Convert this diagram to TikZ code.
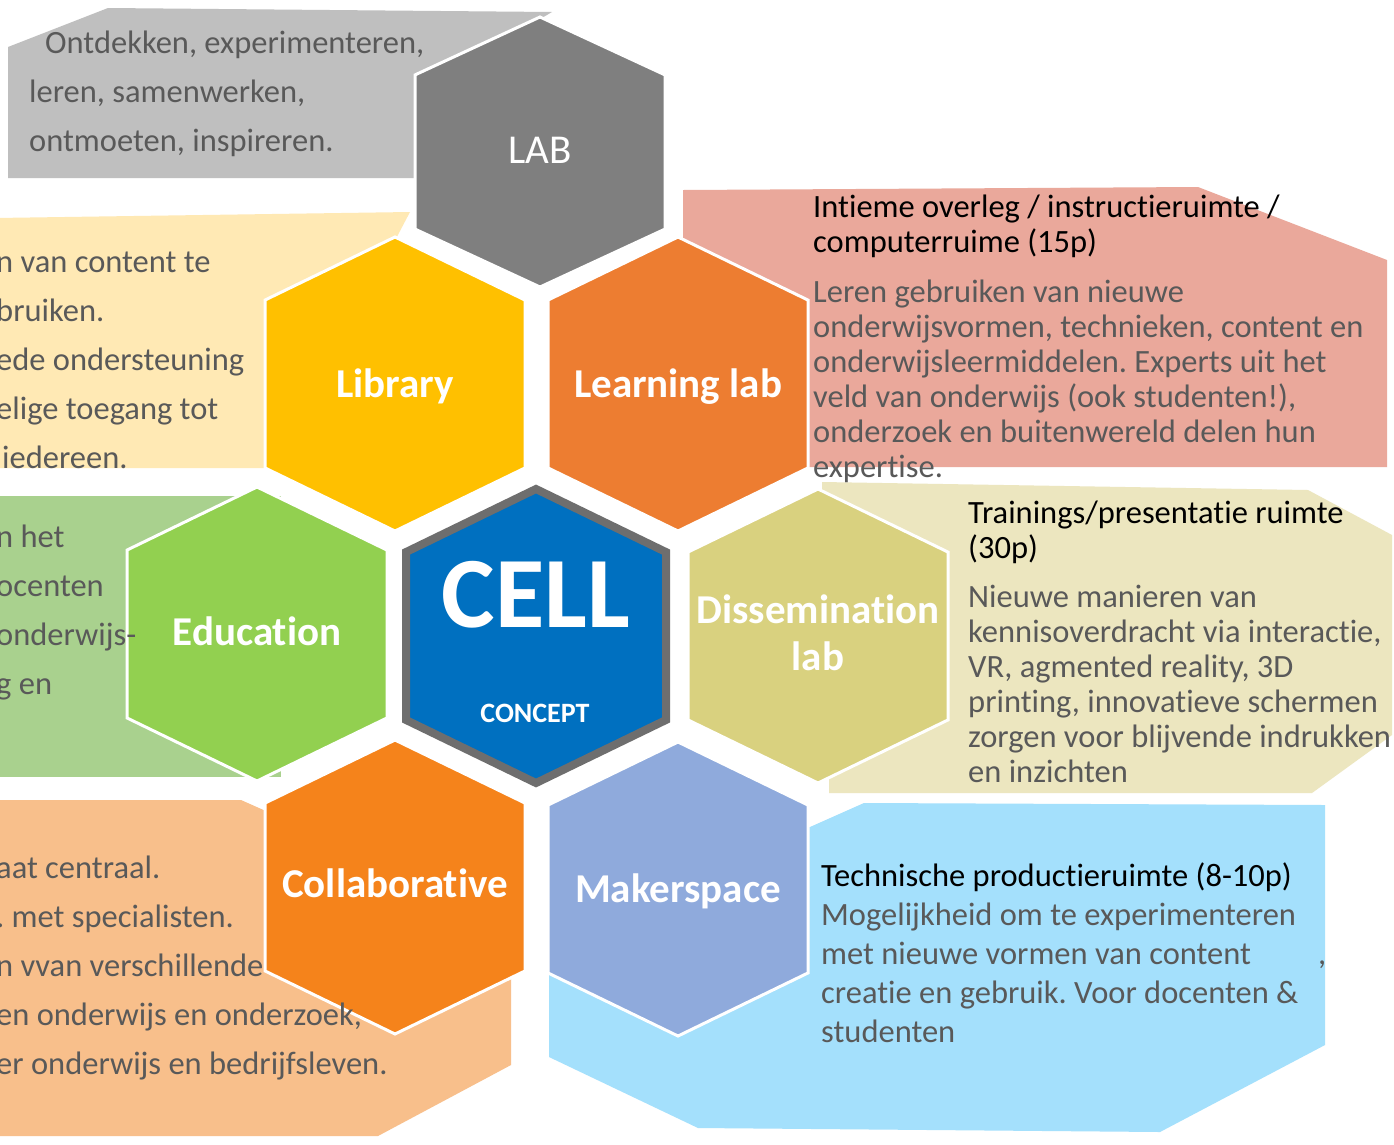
\documentclass[tikz,border=0pt]{standalone}
\usepackage{fontspec}
\setmainfont{Carlito}[Ligatures={NoCommon}]
\frenchspacing

\definecolor{labgray}{HTML}{7F7F7F}
\definecolor{libyellow}{HTML}{FFC000}
\definecolor{learnorange}{HTML}{ED7D31}
\definecolor{edugreen}{HTML}{92D050}
\definecolor{cellblue}{HTML}{0070C0}
\definecolor{cellrim}{HTML}{6E6E6E}
\definecolor{dissolive}{HTML}{D9D17F}
\definecolor{collorange}{HTML}{F5831B}
\definecolor{makerblue}{HTML}{8FAADC}
\definecolor{boxgray}{HTML}{BFBFBF}
\definecolor{boxyellow}{HTML}{FFE9B4}
\definecolor{boxgreen}{HTML}{A9D18E}
\definecolor{boxorange}{HTML}{F8BF8B}
\definecolor{boxpink}{HTML}{EAA89B}
\definecolor{boxbeige}{HTML}{ECE6BF}
\definecolor{boxblue}{HTML}{A4E0FC}
\definecolor{notegray}{HTML}{595959}

% hexagon: options, centre x, centre y, half width, half height
\newcommand{\hexcell}[5]{%
  \path[#1] ({#2},{#3-#5}) -- ({#2+#4},{#3-0.571*#5}) -- ({#2+#4},{#3+0.571*#5})
    -- ({#2},{#3+#5}) -- ({#2-#4},{#3+0.571*#5}) -- ({#2-#4},{#3-0.571*#5}) -- cycle;}

\begin{document}
\begin{tikzpicture}[x=1pt, y=-1pt,
  hex/.style={draw=white, line width=3pt},
  hexlabel/.style={text=white, font=\bfseries\fontsize{41}{47}\selectfont, align=center, anchor=base, inner sep=0pt},
  sidenote/.style={text=notegray, font=\fontsize{32.5}{49}\selectfont, align=left, anchor=north west, inner sep=0pt},
  roomhead/.style={text=black, font=\fontsize{32.5}{35}\selectfont, align=left, anchor=north west, inner sep=0pt},
  roomnote/.style={roomhead, text=notegray}]
\useasboundingbox (0,0) rectangle (1394,1144);
\fill[white] (0,0) rectangle (1394,1144);
\clip (0,0) rectangle (1394,1144);

% boxes behind the hexagons
\fill[boxgray] (108,8) -- (552,12) -- (420,90) -- (420,178) -- (8,178) -- (8,47) -- cycle;
\fill[boxyellow] (-5,218) -- (410,212) -- (390,250) -- (300,300) -- (300,468) -- (-5,468) -- cycle;
\fill[boxgreen] (-5,496) rectangle (281,777);
\fill[boxorange] (-5,800) -- (241,800) -- (268,812) -- (300,900) -- (511,978) -- (511,1065) -- (378,1136) -- (-5,1136) -- cycle;
\fill[boxpink] (683,190) -- (1198,187) -- (1387,260) -- (1387,467) -- (700,467) -- (683,300) -- cycle;
\fill[boxbeige] (822,482) -- (1308,490) -- (1392,535) -- (1392,735) -- (1312,793) -- (829,793) -- (829,760) -- (822,600) -- cycle;
\fill[boxblue] (810,827) -- (864,803) -- (1325,805) -- (1325,1045) -- (1160,1132) -- (698,1128) -- (549,1057) -- (549,975) -- (700,900) -- (800,827) -- cycle;

% hexagons
\hexcell{hex, fill=labgray}{540}{152}{125}{135}
\hexcell{hex, fill=libyellow}{395}{384}{130}{147}
\hexcell{hex, fill=learnorange}{678}{384}{130}{147}
\hexcell{hex, fill=edugreen}{257}{634}{130}{147}
\hexcell{fill=cellblue, draw=cellrim, line width=8pt}{536}{636}{130}{147}
\hexcell{hex, fill=dissolive}{818}{636}{130}{147}
\hexcell{hex, fill=collorange}{395}{887}{130}{147}
\hexcell{hex, fill=makerblue}{678}{889}{130}{147}

% hexagon labels
\node (lab) at (540,163) [hexlabel, font=\fontsize{41}{47}\selectfont] {LAB};
\node (library) at (395,397) [hexlabel] {Library};
\node (learning) at (678,397) [hexlabel] {Learning lab};
\node (education) at (257,645) [hexlabel] {Education};
\node (cell) at (536,627) [hexlabel, font=\bfseries\fontsize{101}{110}\selectfont] {CELL};
\node (concept) at (535,722) [hexlabel, font=\bfseries\fontsize{28}{32}\selectfont] {CONCEPT};
\node (dissemination) at (818,590) [hexlabel, anchor=north] {\strut Dissemination\\lab};
\node (collaborative) at (395,897) [hexlabel] {Collaborative};
\node (makerspace) at (678,902) [hexlabel] {Makerspace};

% texts in the boxes
\node (labnote) at (29,19) [sidenote] {\strut\hspace{16pt}Ontdekken, experimenteren,\\leren, samenwerken,\\ontmoeten, inspireren.};
\node (libnote) at (-4,238) [sidenote] {\strut n van content te\\bruiken.\\ede ondersteuning\\elige toegang tot\\\hspace{6pt}iedereen.};
\node (edunote) at (-4,513) [sidenote] {\strut n het\\ocenten\\onderwijs-\\g en};
\node (collnote) at (-4,844) [sidenote] {\strut aat centraal.\\. met specialisten.\\n vvan verschillende\\en onderwijs en onderzoek,\\er onderwijs en bedrijfsleven.};
\node (learnhead) at (813,193) [roomhead] {\strut Intieme overleg / instructieruimte /\\computerruime (15p)};
\node (learnnote) at (813,278) [roomnote] {\strut Leren gebruiken van nieuwe\\onderwijsvormen, technieken, content en\\onderwijsleermiddelen. Experts uit het\\veld van onderwijs (ook studenten!),\\onderzoek en buitenwereld delen hun\\expertise.};
\node (disshead) at (968,499) [roomhead] {\strut Trainings/presentatie ruimte\\(30p)};
\node (dissnote) at (968,583) [roomnote] {\strut Nieuwe manieren van\\kennisoverdracht via interactie,\\VR, agmented reality, 3D\\printing, innovatieve schermen\\zorgen voor blijvende indrukken\\en inzichten};
\node (makernote) at (821,859) [roomhead, font=\fontsize{32.5}{39}\selectfont] {\strut Technische productieruimte (8-10p)\\\textcolor{notegray}{Mogelijkheid om te experimenteren}\\\textcolor{notegray}{met nieuwe vormen van content}\\\textcolor{notegray}{creatie en gebruik. Voor docenten \&}\\\textcolor{notegray}{studenten}};
\node (makercomma) at (1318,964) [roomnote, anchor=base west] {,};
\end{tikzpicture}
\end{document}
